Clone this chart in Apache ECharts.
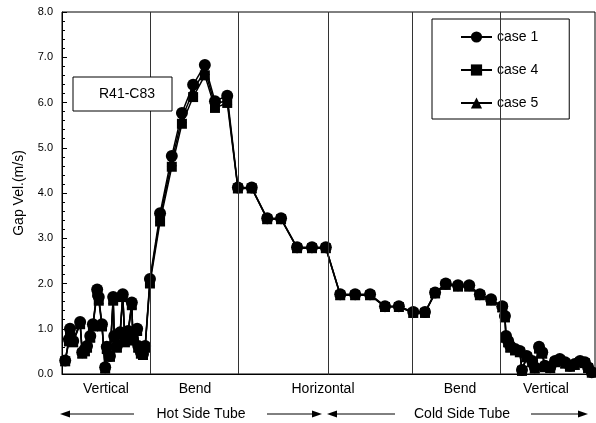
<!DOCTYPE html>
<html>
<head>
<meta charset="utf-8">
<script src="https://cdn.jsdelivr.net/npm/echarts@6/dist/echarts.min.js"></script>
<style>
    html, body { margin: 0; padding: 0; background: #fff; }
    #chart { width: 596px; height: 423px; }
</style>
</head>
<body>
<div id="chart"></div>
<script>
// position along the tube (0 = inlet, 100 = outlet)
var position = [
    0.6, 1.3, 1.5, 2.1, 3.4, 3.8, 4.3, 4.7, 5.3, 5.8, 6.6, 6.9, 7.5, 8.1, 8.4, 9.0, 9.6, 9.8, 10.3, 10.9,
    11.4, 11.8, 12.4, 13.1, 13.3, 14.1, 14.3, 14.8, 15.2, 15.6,
    16.5, 18.4, 20.6, 22.5, 24.6, 26.8, 28.7, 31.0, 33.0,
    35.6, 38.5, 41.1, 44.1, 46.9, 49.5, 52.2, 55.0, 57.8, 60.6, 63.2, 65.9, 68.1, 70.0, 72.0, 74.3,
    76.4, 78.4, 80.5, 82.6, 83.1,
    83.3, 83.7, 84.1, 85.0, 85.9, 86.3, 87.2, 88.2, 88.7, 89.5, 90.1, 90.6, 91.6, 92.5, 93.4, 94.4,
    95.3, 96.2, 97.2, 98.1, 98.7, 99.4
];

var case1 = [
    0.30, 0.77, 1.00, 0.73, 1.15, 0.48, 0.55, 0.62, 0.84, 1.10, 1.87, 1.70, 1.10, 0.15, 0.60, 0.40, 1.70, 0.84, 0.62, 0.92,
    1.76, 0.73, 0.95, 1.58, 0.77, 1.00, 0.62, 0.48, 0.44, 0.62,
    2.10, 3.55, 4.82, 5.77, 6.39, 6.83, 6.03, 6.15, 4.12,
    4.12, 3.44, 3.44, 2.80, 2.80, 2.80, 1.76, 1.76, 1.76, 1.50, 1.50, 1.37, 1.37, 1.80, 2.00, 1.96,
    1.96, 1.76, 1.65, 1.50, 1.28,
    0.84, 0.73, 0.62, 0.55, 0.51, 0.09, 0.40, 0.29, 0.15, 0.60, 0.48, 0.18, 0.15, 0.29, 0.33, 0.26,
    0.18, 0.22, 0.29, 0.26, 0.15, 0.04
];

var case4 = [
    0.28, 0.72, 0.95, 0.70, 1.10, 0.45, 0.50, 0.58, 0.80, 1.05, 1.80, 1.62, 1.05, 0.12, 0.55, 0.38, 1.62, 0.80, 0.58, 0.88,
    1.70, 0.70, 0.90, 1.52, 0.74, 0.95, 0.58, 0.45, 0.42, 0.58,
    2.00, 3.37, 4.58, 5.53, 6.12, 6.60, 5.88, 5.99, 4.10,
    4.10, 3.42, 3.42, 2.78, 2.78, 2.78, 1.74, 1.74, 1.74, 1.48, 1.48, 1.35, 1.35, 1.78, 1.97, 1.93,
    1.93, 1.74, 1.62, 1.47, 1.25,
    0.80, 0.70, 0.58, 0.52, 0.48, 0.07, 0.37, 0.26, 0.12, 0.56, 0.45, 0.15, 0.13, 0.26, 0.30, 0.23,
    0.16, 0.20, 0.26, 0.24, 0.13, 0.03
];

var case5 = [
    0.29, 0.75, 0.98, 0.72, 1.12, 0.46, 0.52, 0.60, 0.82, 1.08, 1.84, 1.66, 1.08, 0.13, 0.58, 0.39, 1.66, 0.82, 0.60, 0.90,
    1.73, 0.72, 0.92, 1.55, 0.76, 0.98, 0.60, 0.46, 0.43, 0.60,
    2.05, 3.46, 4.70, 5.65, 6.25, 6.72, 5.95, 6.06, 4.11,
    4.11, 3.43, 3.43, 2.79, 2.79, 2.79, 1.75, 1.75, 1.75, 1.49, 1.49, 1.36, 1.36, 1.79, 1.98, 1.95,
    1.95, 1.75, 1.64, 1.48, 1.26,
    0.82, 0.72, 0.60, 0.54, 0.50, 0.08, 0.38, 0.28, 0.14, 0.58, 0.46, 0.16, 0.14, 0.28, 0.32, 0.24,
    0.17, 0.21, 0.28, 0.25, 0.14, 0.04
];

// section boundaries along the tube
var sectionBounds = [16.5, 33.0, 49.9, 65.7, 82.2];

var sectionNames = ['Vertical', 'Bend', 'Horizontal', 'Bend', 'Vertical'];
var sectionLabelX = [106, 195, 323, 460, 546];

function pairs(ys) {
    var out = [];
    for (var i = 0; i < ys.length; i++) {
        out.push([position[i], ys[i]]);
    }
    return out;
}

var font = 'Arial, "Liberation Sans", sans-serif';

function label(txt, x, y, z) {
    return {
        type: 'text', x: x, y: y, z: z || 5,
        style: {text: txt, font: '14px ' + font, fill: '#000', align: 'center', verticalAlign: 'middle'}
    };
}

var graphics = [];
for (var s = 0; s < sectionNames.length; s++) {
    graphics.push(label(sectionNames[s], sectionLabelX[s], 389));
}
graphics.push(label('Hot Side Tube', 201, 414));
graphics.push(label('Cold Side Tube', 462, 414));

// arrows: [from, to] with head at "to"
var arrows = [[134, 60], [267, 322], [395, 327], [531, 588]];
for (var a = 0; a < arrows.length; a++) {
    var x0 = arrows[a][0], x1 = arrows[a][1];
    var dir = x1 > x0 ? 1 : -1;
    graphics.push({
        type: 'line',
        shape: {x1: x0, y1: 414, x2: x1 - dir * 6, y2: 414},
        style: {stroke: '#000', lineWidth: 1}
    });
    graphics.push({
        type: 'polygon',
        shape: {points: [[x1, 414], [x1 - dir * 10, 410.5], [x1 - dir * 10, 417.5]]},
        style: {fill: '#000'}
    });
}

// R41-C83 tag
graphics.push({
    type: 'rect',
    shape: {x: 73, y: 77, width: 99, height: 34},
    style: {fill: '#fff', stroke: '#000', lineWidth: 1},
    z: 10
});
graphics.push(label('R41-C83', 127, 94, 11));

var boundLines = [];
for (var b = 0; b < sectionBounds.length; b++) {
    boundLines.push({xAxis: sectionBounds[b]});
}

var option = {
    backgroundColor: '#fff',
    animation: false,
    textStyle: {fontFamily: font},
    grid: {
        left: 62, right: 1, top: 12, bottom: 49,
        show: true, borderColor: '#000', borderWidth: 1
    },
    legend: {
        orient: 'vertical',
        left: 432, top: 19,
        data: ['case 1', 'case 4', 'case 5'],
        backgroundColor: '#fff',
        borderColor: '#000',
        borderWidth: 1,
        padding: [11, 31, 9, 28],
        itemWidth: 31,
        itemHeight: 14,
        itemGap: 19,
        textStyle: {color: '#000', fontSize: 14, fontFamily: font}
    },
    xAxis: {
        type: 'value',
        min: 0, max: 100,
        axisLine: {show: true, lineStyle: {color: '#000'}},
        axisTick: {show: false},
        axisLabel: {show: false},
        splitLine: {show: false}
    },
    yAxis: {
        type: 'value',
        min: 0, max: 8, interval: 1,
        name: 'Gap Vel.(m/s)',
        nameLocation: 'middle',
        nameGap: 36,
        nameTextStyle: {color: '#000', fontSize: 14, fontFamily: font},
        axisLine: {show: true, lineStyle: {color: '#000'}},
        axisTick: {show: true, inside: true, length: 5, lineStyle: {color: '#000'}},
        minorTick: {show: true, splitNumber: 5, length: 3, lineStyle: {color: '#000'}},
        axisLabel: {
            color: '#000', fontSize: 11, margin: 9,
            formatter: function (v) { return v.toFixed(1); }
        },
        splitLine: {show: false}
    },
    graphic: graphics,
    series: [
        {
            name: 'case 5',
            type: 'line',
            data: pairs(case5),
            symbol: 'triangle',
            symbolSize: 10,
            itemStyle: {color: '#000'},
            lineStyle: {color: '#000', width: 1.5},
            markLine: {
                silent: true,
                symbol: 'none',
                label: {show: false},
                lineStyle: {color: '#333', width: 1, type: 'solid'},
                data: boundLines
            }
        },
        {
            name: 'case 4',
            type: 'line',
            data: pairs(case4),
            symbol: 'rect',
            symbolSize: 10,
            itemStyle: {color: '#000'},
            lineStyle: {color: '#000', width: 1.5}
        },
        {
            name: 'case 1',
            type: 'line',
            data: pairs(case1),
            symbol: 'circle',
            symbolSize: 12,
            itemStyle: {color: '#000'},
            lineStyle: {color: '#000', width: 1.5}
        }
    ]
};

var myChart = echarts.init(document.getElementById('chart'));
myChart.setOption(option);
</script>
</body>
</html>
